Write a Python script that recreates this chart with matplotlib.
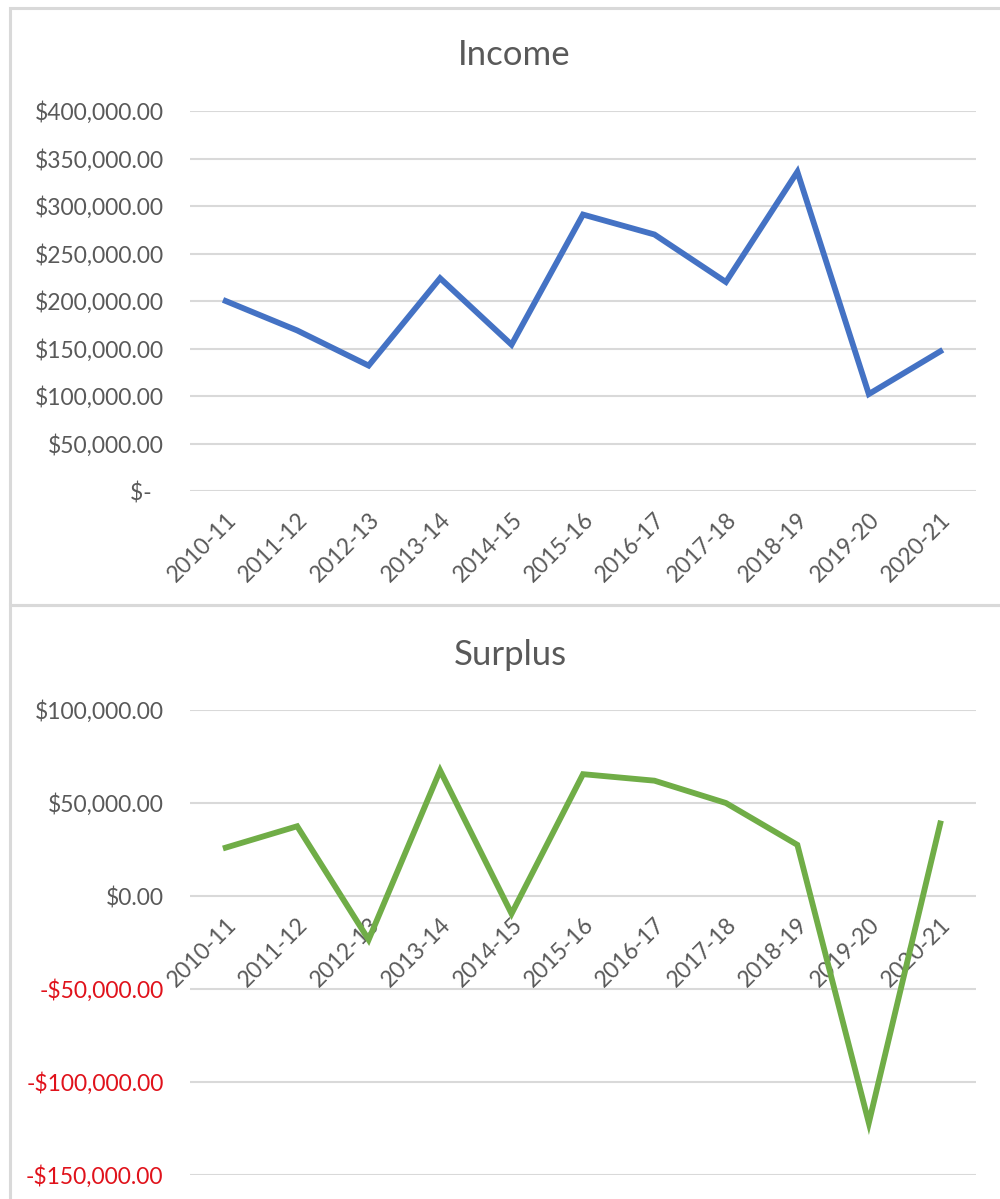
import matplotlib
matplotlib.use("Agg")
import matplotlib.pyplot as plt
from matplotlib.patches import Rectangle
from matplotlib.ticker import FuncFormatter

plt.rcParams['font.family'] = ['Lato', 'DejaVu Sans']

years = ["2010-11", "2011-12", "2012-13", "2013-14", "2014-15", "2015-16",
         "2016-17", "2017-18", "2018-19", "2019-20", "2020-21"]
income = [200000, 169000, 132000, 224000, 154000, 291000,
          270000, 220000, 336000, 102000, 147000]
surplus = [26000, 37500, -23500, 67500, -9500, 65500,
           62000, 50000, 27500, -122000, 39000]

income_ticks = [0, 50000, 100000, 150000, 200000, 250000, 300000, 350000, 400000]
surplus_ticks = [-150000, -100000, -50000, 0, 50000, 100000]

TEXT = '#595959'
GRID = '#D9D9D9'
BLUE = '#4472C4'
GREEN = '#70AD47'
RED = '#E0121B'

W, H = 1000, 1199
fig = plt.figure(figsize=(W / 100, H / 100), dpi=100)

def fx(px):
    return px / W

def fy(py):
    return 1 - py / H

# chart borders
fig.add_artist(Rectangle((fx(10), fy(605)), fx(1000), fy(8) - fy(605),
                         transform=fig.transFigure, fill=False, ec=GRID, lw=2.2))
fig.add_artist(Rectangle((fx(10), fy(1205)), fx(1000), fy(605) - fy(1205),
                         transform=fig.transFigure, fill=False, ec=GRID, lw=2.2))

x = list(range(len(years)))
FS = 16.5

def style(ax):
    for s in ax.spines.values():
        s.set_visible(False)
    ax.grid(axis='y', color=GRID, lw=1.5)
    ax.set_axisbelow(True)
    ax.set_xlim(-0.5, len(years) - 0.5)
    ax.set_xticks(x)
    ax.set_xticklabels(years, rotation=45, ha='right', rotation_mode='anchor')
    ax.tick_params(axis='both', length=0, labelsize=FS, colors=TEXT)
    ax.tick_params(axis='y', pad=19)
    ax.tick_params(axis='x', pad=13)

# Income
ax1 = fig.add_axes([fx(190), fy(491), fx(976) - fx(190), fy(111) - fy(491)])
ax1.plot(x, income, color=BLUE, lw=4.2, solid_joinstyle='miter')
ax1.set_ylim(0, 400000)
ax1.set_yticks(income_ticks)
ax1.yaxis.set_major_formatter(FuncFormatter(
    lambda v, p: "$-  " if v == 0 else f"${v:,.2f}"))
style(ax1)
fig.text(fx(514), fy(55), "Income", ha='center', va='center', fontsize=25, color=TEXT)

# Surplus
ax2 = fig.add_axes([fx(190), fy(1175), fx(976) - fx(190), fy(710) - fy(1175)])
ax2.plot(x, surplus, color=GREEN, lw=4.2, solid_joinstyle='miter')
ax2.set_ylim(-150000, 100000)
ax2.set_yticks(surplus_ticks)
ax2.yaxis.set_major_formatter(FuncFormatter(
    lambda v, p: f"-${abs(v):,.2f}" if v < 0 else f"${v:,.2f}"))
ax2.spines['bottom'].set_position(('data', 0))
style(ax2)
for lbl, v in zip(ax2.get_yticklabels(), surplus_ticks):
    if v < 0:
        lbl.set_color(RED)
fig.text(fx(510), fy(655), "Surplus", ha='center', va='center', fontsize=25, color=TEXT)

fig.savefig("out.png", dpi=100)
